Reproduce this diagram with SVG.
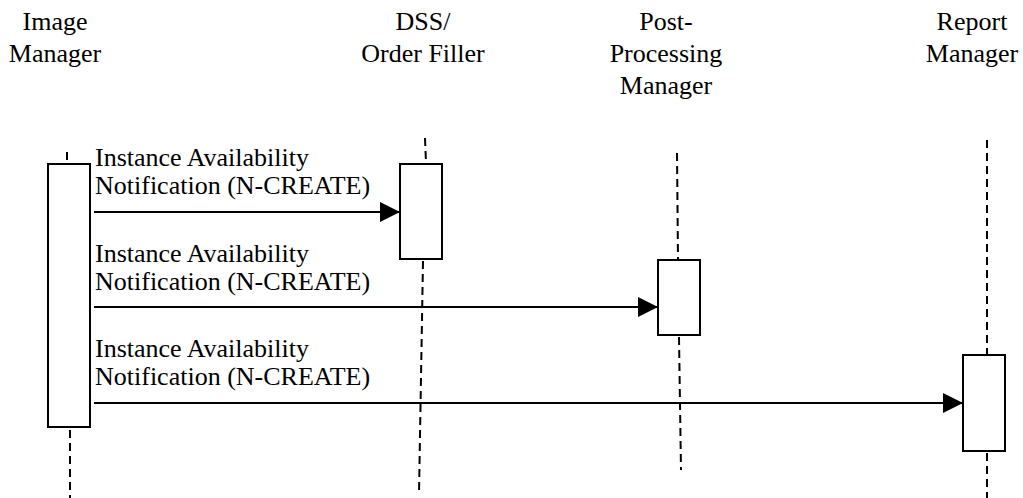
<svg xmlns="http://www.w3.org/2000/svg" width="1023" height="498" viewBox="0 0 1023 498">
<style>
text{font-family:'Liberation Serif','Tinos','DejaVu Serif',serif;font-size:26px;fill:#000}
.h{text-anchor:middle}
.life{stroke:#000;stroke-width:2;stroke-dasharray:8 5;fill:none}
.act{fill:#fff;stroke:#000;stroke-width:2}
.msg{stroke:#000;stroke-width:2;fill:none;marker-end:url(#ah)}
</style>
<defs>
<marker id="ah" markerUnits="userSpaceOnUse" markerWidth="20" markerHeight="20" refX="20" refY="10" orient="auto">
<path d="M0,0 L20,10 L0,20 Z" fill="#000"/>
</marker>
</defs>
<g id="image-manager">
<text class="h" x="55" y="30">Image</text>
<text class="h" x="55" y="62">Manager</text>
<line class="life" x1="67" y1="152" x2="67" y2="163"/>
<rect class="act" x="48" y="164" width="42" height="263"/>
<line class="life" x1="70" y1="430" x2="70" y2="498"/>
</g>
<g id="dss-order-filler">
<text class="h" x="423" y="30">DSS/</text>
<text class="h" x="423" y="62">Order Filler</text>
<line class="life" x1="425" y1="138" x2="426" y2="163"/>
<rect class="act" x="400" y="164" width="42" height="95"/>
<line class="life" x1="423" y1="261" x2="419" y2="494"/>
</g>
<g id="post-processing-manager">
<text class="h" x="666" y="30">Post-</text>
<text class="h" x="666" y="62">Processing</text>
<text class="h" x="666" y="94">Manager</text>
<line class="life" x1="677" y1="153" x2="678" y2="259"/>
<rect class="act" x="658" y="260" width="42" height="75"/>
<line class="life" x1="679" y1="337" x2="681" y2="470"/>
</g>
<g id="report-manager">
<text class="h" x="972" y="30">Report</text>
<text class="h" x="972" y="62">Manager</text>
<line class="life" x1="987" y1="140" x2="987" y2="355"/>
<rect class="act" x="963" y="355" width="42" height="96"/>
<line class="life" x1="987" y1="453" x2="987" y2="498"/>
</g>
<g id="connectors">
<line class="msg" x1="94" y1="212" x2="400" y2="212"/>
<line class="msg" x1="94" y1="307" x2="658" y2="307"/>
<line class="msg" x1="94" y1="403" x2="963" y2="403"/>
<text x="95" y="166">Instance Availability</text>
<text x="95" y="194">Notification (N-CREATE)</text>
<text x="95" y="262">Instance Availability</text>
<text x="95" y="290">Notification (N-CREATE)</text>
<text x="95" y="357">Instance Availability</text>
<text x="95" y="385">Notification (N-CREATE)</text>
</g>
</svg>
